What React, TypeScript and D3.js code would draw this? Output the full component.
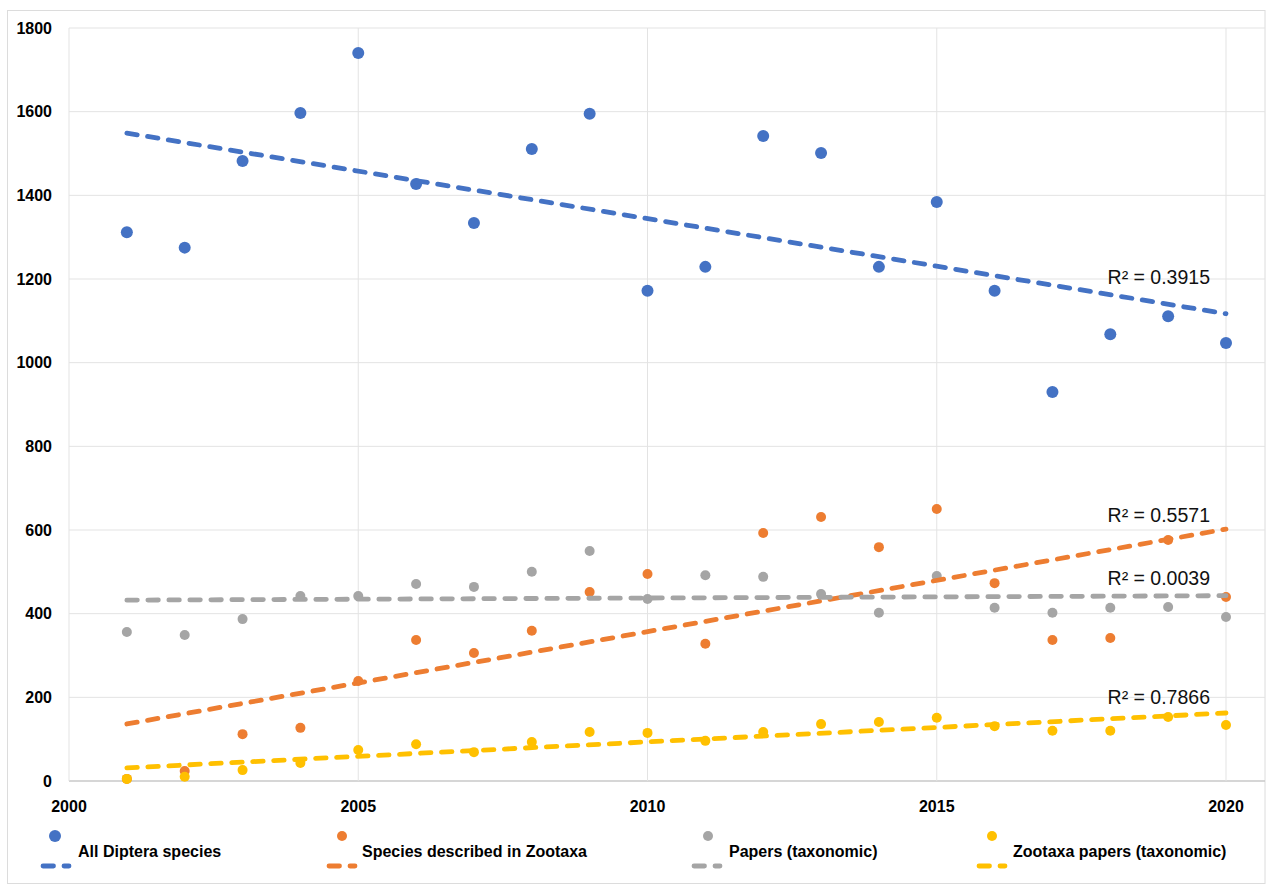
import React, { useMemo } from 'react';
import * as d3 from 'd3';

// values
const years = [2001, 2002, 2003, 2004, 2005, 2006, 2007, 2008, 2009, 2010, 2011, 2012, 2013, 2014, 2015, 2016, 2017, 2018, 2019, 2020];
const allDiptera = [1312, 1275, 1482, 1597, 1740, 1427, 1334, 1511, 1595, 1172, 1229, 1542, 1501, 1229, 1384, 1172, 930, 1068, 1111, 1047];
const zootaxaSpecies = [5, 24, 112, 127, 239, 337, 306, 359, 452, 495, 328, 593, 631, 559, 650, 473, 337, 342, 576, 440];
const papersTaxonomic = [356, 349, 387, 442, 442, 471, 464, 500, 550, 435, 492, 488, 447, 402, 490, 414, 402, 414, 416, 392];
const zootaxaPapers = [5, 10, 26, 43, 74, 88, 69, 93, 117, 115, 96, 117, 136, 141, 151, 131, 120, 120, 153, 134];

const seriesNames = ['All Diptera species', 'Species described in Zootaxa', 'Papers (taxonomic)', 'Zootaxa papers (taxonomic)'];
const seriesColors = ['#4472C4', '#ED7D31', '#A5A5A5', '#FFC000'];
const rSquared = ['0.3915', '0.5571', '0.0039', '0.7866'];
const rSquaredAt = [1205, 636, 485, 201]; // y value where each label sits

const yTicks = [0, 200, 400, 600, 800, 1000, 1200, 1400, 1600, 1800];
const xTicks = [2000, 2005, 2010, 2015, 2020];

const W = 1276;
const H = 886;
const plot = { left: 69, right: 1265, top: 28, bottom: 781 };

// legend slots: dash start, marker x, text x
const legendX = [
  { dash: 41, marker: 55, text: 78 },
  { dash: 327, marker: 342, text: 362 },
  { dash: 692, marker: 708, text: 729 },
  { dash: 977, marker: 992, text: 1013 },
];

// ordinary least squares, same as Excel's linear trendline
const linearFit = (xs: number[], ys: number[]) => {
  const mx = d3.mean(xs)!;
  const my = d3.mean(ys)!;
  const sxy = d3.sum(xs, (x, i) => (x - mx) * (ys[i] - my));
  const sxx = d3.sum(xs, x => (x - mx) * (x - mx));
  const slope = sxy / sxx;
  return (x: number) => my + slope * (x - mx);
};

const App: React.FC = () => {
  const x = useMemo(() => d3.scaleLinear().domain([2000, 2020]).range([plot.left, 1226]), []);
  const y = useMemo(() => d3.scaleLinear().domain([0, 1800]).range([plot.bottom, plot.top]), []);

  const series = [allDiptera, zootaxaSpecies, papersTaxonomic, zootaxaPapers];
  const trend = d3.line<[number, number]>().x(d => x(d[0])).y(d => y(d[1]));

  const fits = series.map(vals => {
    const f = linearFit(years, vals);
    const x0 = years[0];
    const x1 = years[years.length - 1];
    return trend([[x0, f(x0)], [x1, f(x1)]]) || '';
  });

  const font = '"Liberation Sans", Arial, sans-serif';
  const dash = '10.5 10.5';

  return (
    <svg
      width={W}
      height={H}
      style={{ position: 'absolute', left: 0, top: 0, background: '#fff' }}
      fontFamily={font}
    >
      <rect x={7.5} y={10.5} width={plot.right - 7.5} height={873} fill="#fff" stroke="#DCDCDC" />

      {/* gridlines */}
      {yTicks.map(t => (
        <line key={'gy' + t} x1={plot.left} x2={plot.right} y1={y(t)} y2={y(t)}
          stroke={t === 0 ? '#C8C8C8' : '#E3E3E3'} strokeWidth={t === 0 ? 1.5 : 1} />
      ))}
      {xTicks.map(t => (
        <line key={'gx' + t} x1={x(t)} x2={x(t)} y1={plot.top} y2={plot.bottom} stroke="#E3E3E3" />
      ))}

      {/* axis labels */}
      {yTicks.map(t => (
        <text key={'ty' + t} x={52} y={y(t)} dy="0.35em" textAnchor="end"
          fontSize={16} fontWeight="bold" fill="#000">{t}</text>
      ))}
      {xTicks.map(t => (
        <text key={'tx' + t} x={x(t)} y={806} dy="0.35em" textAnchor="middle"
          fontSize={16} fontWeight="bold" fill="#000">{t}</text>
      ))}

      {/* markers */}
      {series.map((vals, si) => (
        <g key={'s' + si} fill={seriesColors[si]}>
          {vals.map((v, i) => (
            <circle key={i} cx={x(years[i])} cy={y(v)} r={si === 0 ? 6 : 5} />
          ))}
        </g>
      ))}

      {/* linear trendlines */}
      {fits.map((d, si) => (
        <path key={'f' + si} d={d} fill="none" stroke={seriesColors[si]} strokeWidth={4.8}
          strokeDasharray={dash} strokeLinecap="round" />
      ))}

      {/* R² labels */}
      {rSquared.map((r, i) => (
        <text key={'r' + i} x={1210} y={y(rSquaredAt[i])} dy="0.35em" textAnchor="end"
          fontSize={19.5} fill="#111">
          {`R² = ${r}`}
        </text>
      ))}

      {/* legend */}
      {seriesNames.map((name, i) => (
        <g key={'l' + i}>
          <circle cx={legendX[i].marker} cy={836} r={i === 0 ? 6 : 5} fill={seriesColors[i]} />
          <text x={legendX[i].text} y={851} dy="0.35em" fontSize={16} fontWeight="bold" fill="#000">{name}</text>
          <line x1={legendX[i].dash + 2} x2={legendX[i].dash + 28} y1={866} y2={866}
            stroke={seriesColors[i]} strokeWidth={4.8} strokeDasharray={dash} strokeLinecap="round" />
        </g>
      ))}
    </svg>
  );
};

export default App;
